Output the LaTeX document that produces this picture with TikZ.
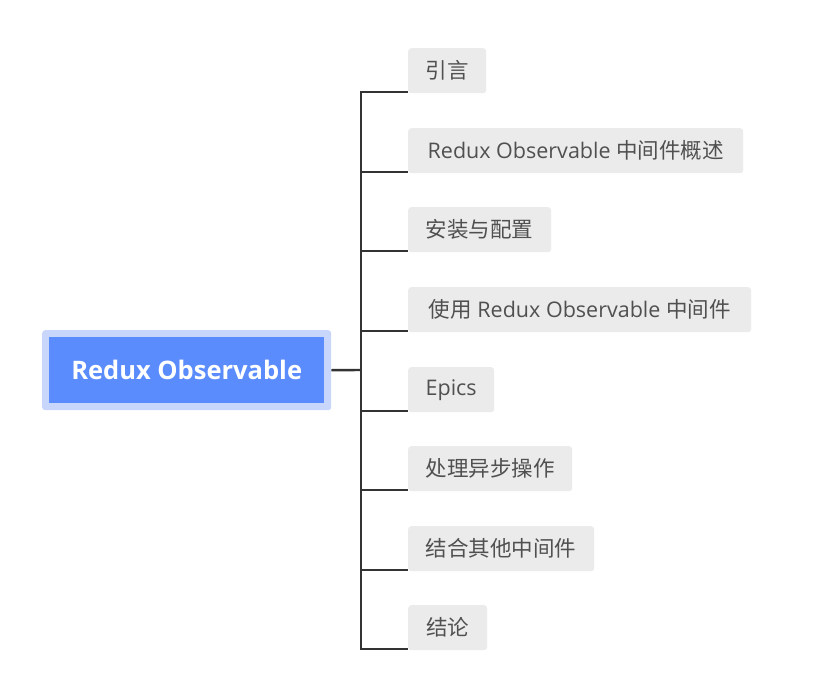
\documentclass[tikz,border=0pt]{standalone}
\usepackage{fontspec}
\setmainfont{Open Sans}
\newfontfamily\cjk{Noto Sans CJK SC}
\begin{document}
\begin{tikzpicture}[x=1pt,y=-1pt,
  child/.style={draw=none,fill=childfill,rounded corners=3pt,anchor=north west,
    minimum height=45pt,inner xsep=0pt,inner ysep=0pt,text=childtext,font=\fontsize{21.5}{24}\selectfont},
  link/.style={draw=linecol,line width=2.4pt},
]
\definecolor{childfill}{HTML}{EBEBEB}
\definecolor{childtext}{HTML}{505050}
\definecolor{linecol}{HTML}{333333}
\definecolor{rootout}{HTML}{C9D6FC}
\definecolor{rootin}{HTML}{5A8CFD}
\useasboundingbox (0,0) rectangle (815,694);
% root
\node[fill=rootout,rounded corners=3pt,minimum width=289pt,minimum height=80pt,anchor=north west,inner sep=0pt] (root) at (42,330) {};
\node[fill=rootin,minimum width=275pt,minimum height=66pt,inner sep=0pt,text=white,font=\fontsize{25.5}{28}\selectfont\bfseries] (rootin) at (root.center) {Redux Observable};
% children
\node[child,minimum width=78pt] (n1) at (408,48) {\cjk 引言};
\node[child,minimum width=335pt] (n2) at (408,128) {Redux Observable {\cjk 中间件概述}};
\node[child,minimum width=143pt] (n3) at (408,207) {\cjk 安装与配置};
\node[child,minimum width=343pt] (n4) at (408,287) {{\cjk 使用} Redux Observable {\cjk 中间件}};
\node[child,minimum width=86pt] (n5) at (408,367) {Epics};
\node[child,minimum width=164pt] (n6) at (408,446) {\cjk 处理异步操作};
\node[child,minimum width=186pt] (n7) at (408,526) {\cjk 结合其他中间件};
\node[child,minimum width=79pt] (n8) at (408,605) {\cjk 结论};
% connectors
\coordinate (tr) at (361,370);
\draw[link] (root.east) -- (tr);
\foreach \n in {n1,n2,n3,n4,n5,n6,n7,n8}
  \coordinate (b\n) at ([yshift=1.5pt]\n.south west);
\draw[link] (bn1) -| (tr |- bn8) -- (bn8);
\foreach \n in {n2,n3,n4,n5,n6,n7}
  \draw[link] (tr |- b\n) -- (b\n);
\end{tikzpicture}
\end{document}
